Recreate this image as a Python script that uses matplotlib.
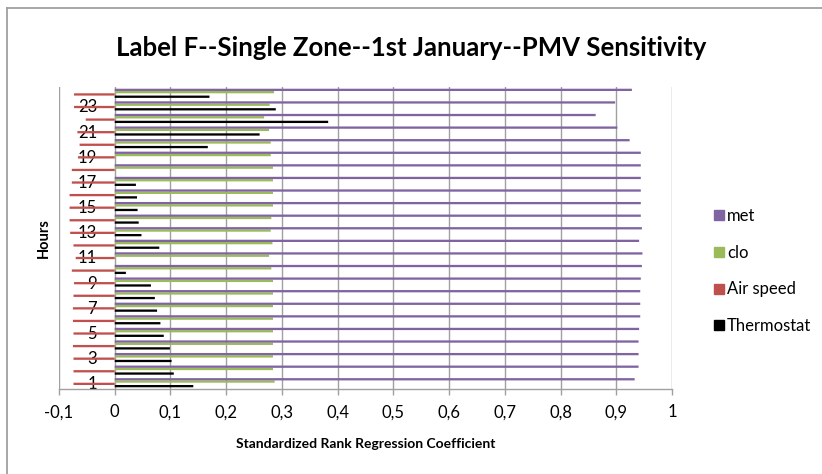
import matplotlib
matplotlib.use("Agg")
import matplotlib.pyplot as plt
from matplotlib.lines import Line2D
import numpy as np

plt.rcParams['font.family'] = ['Lato', 'DejaVu Sans']

hours = list(range(1, 25))
thermostat = [0.141, 0.106, 0.102, 0.099, 0.088, 0.082, 0.076, 0.072, 0.065, 0.020,
              0.0, 0.080, 0.048, 0.043, 0.041, 0.040, 0.038, 0.0, 0.0, 0.167,
              0.260, 0.383, 0.289, 0.170]
air_speed = [-0.074, -0.074, -0.074, -0.075, -0.074, -0.075, -0.075, -0.074, -0.073, -0.077,
             -0.070, -0.074, -0.080, -0.081, -0.081, -0.081, -0.077, -0.077, -0.066, -0.063,
             -0.067, -0.052, -0.073, -0.073]
clo = [0.287, 0.284, 0.284, 0.284, 0.284, 0.284, 0.284, 0.284, 0.284, 0.281,
       0.277, 0.283, 0.280, 0.281, 0.284, 0.284, 0.284, 0.284, 0.280, 0.280,
       0.277, 0.268, 0.278, 0.286]
met = [0.933, 0.940, 0.940, 0.940, 0.941, 0.943, 0.943, 0.943, 0.944, 0.946,
       0.947, 0.941, 0.946, 0.944, 0.944, 0.944, 0.944, 0.944, 0.944, 0.924,
       0.902, 0.863, 0.898, 0.928]

series_names = ["Thermostat", "Air speed", "clo", "met"]
series_vals = [thermostat, air_speed, clo, met]
series_colors = ["#000000", "#C0504D", "#9BBB59", "#8064A2"]

x_ticks = [-0.1, 0, 0.1, 0.2, 0.3, 0.4, 0.5, 0.6, 0.7, 0.8, 0.9, 1.0]
x_tick_labels = ["-0,1", "0", "0,1", "0,2", "0,3", "0,4", "0,5", "0,6", "0,7", "0,8", "0,9", "1"]
y_tick_hours = [1, 3, 5, 7, 9, 11, 13, 15, 17, 19, 21, 23]

W, H = 822, 474
fig = plt.figure(figsize=(W / 100, H / 100), dpi=100)
ax = fig.add_axes([59 / W, (H - 389) / H, 613 / W, 302 / H])

pos = np.arange(len(hours))
n = len(series_names)
bh = 1.0 / (n + 1.5)
for i, (name, vals, col) in enumerate(zip(series_names, series_vals, series_colors)):
    off = (i - (n - 1) / 2) * bh
    bars = ax.barh(pos + off, vals, height=bh, color=col, label=name, zorder=3, linewidth=0)
    for b in bars:
        b.set_snap(False)

ax.set_xlim(-0.1, 1.0)
ax.set_ylim(-0.5, len(hours) - 0.5)

ax.set_xticks(x_ticks)
ax.set_xticklabels(x_tick_labels, fontsize=12)
ax.tick_params(axis='x', direction='out', length=4, width=1, color='#a0a0a0', pad=7)

ax.set_yticks([h - 1 for h in y_tick_hours])
ax.set_yticklabels([str(h) for h in y_tick_hours], fontsize=12)
ax.tick_params(axis='y', length=0, pad=-27.4)

ax.grid(axis='x', color='#a0a0a0', linewidth=1.0, zorder=1)
ax.set_axisbelow(True)
for s in ['top', 'right', 'left']:
    ax.spines[s].set_visible(False)
ax.spines['bottom'].set_color('#a0a0a0')
ax.spines['bottom'].set_linewidth(1.0)

ax.set_xlabel("Standardized Rank Regression Coefficient", fontsize=10, fontweight='bold', labelpad=13)
ax.set_ylabel("Hours", fontsize=10.5, fontweight='bold', labelpad=6)

fig.text(411 / W, 1 - 48 / H, "Label F--Single Zone--1st January--PMV Sensitivity",
         ha='center', va='center', fontsize=18.5, fontweight='bold')

handles = [Line2D([], [], marker='s', linestyle='none', markersize=7.5,
                  markerfacecolor=c, markeredgecolor=c) for c in series_colors[::-1]]
ax.legend(handles, series_names[::-1], loc='center left',
          bbox_to_anchor=(702 / W, 1 - 271 / H), bbox_transform=fig.transFigure,
          frameon=False, fontsize=12, labelspacing=1.25, handletextpad=0.0,
          handlelength=1.0, borderpad=0)

fig.add_artist(Line2D([7 / W, 7 / W], [0, 1 - 8 / H], transform=fig.transFigure,
                      color='#a0a0a0', linewidth=1.3))
fig.add_artist(Line2D([7 / W, 1], [1 - 8 / H, 1 - 8 / H], transform=fig.transFigure,
                      color='#a0a0a0', linewidth=1.3))

fig.savefig("out.png", dpi=100)
